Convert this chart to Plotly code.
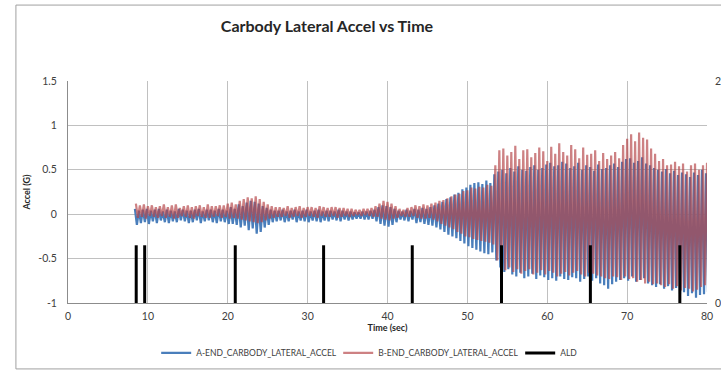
import numpy as np
import plotly.graph_objects as go

# ---------------- data ----------------
T0_A = 8.375  # first sample time of A-END series (s)
T0_B = 8.5    # first sample time of B-END series (s)
DT = 0.25     # sample step (s)

a_end_accel = [
    0.06,-0.12,0.04,-0.10, 0.05,-0.09,0.06,-0.11, 0.04,-0.08,0.05,-0.10, 0.06,-0.07,0.03,-0.09,
    0.05,-0.10,0.04,-0.08, 0.03,-0.09,0.06,-0.07, 0.05,-0.08,0.04,-0.10, 0.04,-0.09,0.05,-0.07,
    0.06,-0.10,0.03,-0.08, 0.05,-0.07,0.05,-0.09, 0.04,-0.10,0.06,-0.08, 0.05,-0.09,0.04,-0.11,
    0.08,-0.11,0.06,-0.12, 0.11,-0.15,0.09,-0.13, 0.13,-0.18,0.15,-0.16, 0.14,-0.22,0.12,-0.20,
    0.09,-0.15,0.07,-0.12, 0.05,-0.09,0.04,-0.08, 0.04,-0.07,0.05,-0.09, 0.03,-0.08,0.04,-0.06,
    0.05,-0.09,0.03,-0.07, 0.04,-0.08,0.05,-0.09, 0.03,-0.07,0.04,-0.08, 0.05,-0.09,0.03,-0.07,
    0.04,-0.08,0.04,-0.06, 0.03,-0.07,0.05,-0.08, 0.04,-0.06,0.03,-0.07, 0.03,-0.06,0.02,-0.05,
    0.02,-0.05,0.03,-0.06, 0.03,-0.06,0.04,-0.05, 0.05,-0.08,0.08,-0.11, 0.10,-0.13,0.09,-0.14,
    0.08,-0.12,0.06,-0.09, 0.04,-0.06,0.03,-0.07, 0.05,-0.08,0.04,-0.06, 0.06,-0.10,0.05,-0.09,
    0.07,-0.11,0.06,-0.12, 0.08,-0.13,0.10,-0.15, 0.12,-0.17,0.14,-0.20, 0.17,-0.23,0.19,-0.25,
    0.22,-0.27,0.24,-0.30, 0.28,-0.33,0.30,-0.36, 0.33,-0.38,0.35,-0.40, 0.36,-0.42,0.34,-0.44,
    0.38,-0.45,0.35,-0.43, 0.45,-0.52,0.48,-0.60, 0.50,-0.65,0.46,-0.62, 0.52,-0.68,0.48,-0.70,
    0.54,-0.66,0.50,-0.72, 0.49,-0.70,0.53,-0.67, 0.55,-0.73,0.50,-0.69, 0.52,-0.71,0.56,-0.74,
    0.58,-0.72,0.54,-0.75, 0.55,-0.70,0.59,-0.73, 0.57,-0.74,0.52,-0.71, 0.54,-0.72,0.58,-0.76,
    0.50,-0.73,0.55,-0.70, 0.53,-0.75,0.49,-0.72, 0.56,-0.78,0.51,-0.80, 0.52,-0.84,0.55,-0.79,
    0.57,-0.76,0.53,-0.74, 0.59,-0.72,0.62,-0.75, 0.63,-0.70,0.58,-0.76, 0.60,-0.74,0.64,-0.72,
    0.57,-0.78,0.55,-0.80, 0.52,-0.82,0.50,-0.79, 0.48,-0.84,0.51,-0.81, 0.46,-0.86,0.49,-0.83,
    0.44,-0.90,0.47,-0.88, 0.45,-0.92,0.42,-0.89, 0.47,-0.94,0.44,-0.91, 0.50,-0.90,0.46,-0.88,
]

b_end_accel = [
    0.12,-0.04,0.10,-0.03, 0.11,-0.05,0.09,-0.02, 0.10,-0.03,0.08,-0.04, 0.09,-0.02,0.11,-0.04,
    0.08,-0.03,0.10,-0.05, 0.11,-0.04,0.07,-0.02, 0.09,-0.03,0.10,-0.04, 0.08,-0.05,0.09,-0.02,
    0.10,-0.03,0.08,-0.04, 0.11,-0.04,0.09,-0.03, 0.09,-0.02,0.10,-0.04, 0.10,-0.03,0.12,-0.05,
    0.13,-0.04,0.11,-0.05, 0.15,-0.06,0.17,-0.07, 0.19,-0.08,0.18,-0.09, 0.20,-0.10,0.17,-0.09,
    0.14,-0.07,0.11,-0.05, 0.09,-0.04,0.08,-0.03, 0.08,-0.03,0.07,-0.02, 0.09,-0.04,0.07,-0.03,
    0.08,-0.02,0.09,-0.04, 0.07,-0.03,0.08,-0.02, 0.08,-0.03,0.07,-0.04, 0.09,-0.02,0.08,-0.03,
    0.07,-0.03,0.08,-0.02, 0.08,-0.04,0.07,-0.03, 0.07,-0.02,0.06,-0.03, 0.06,-0.02,0.05,-0.01,
    0.05,-0.02,0.06,-0.01, 0.06,-0.02,0.07,-0.03, 0.09,-0.03,0.12,-0.05, 0.15,-0.06,0.14,-0.07,
    0.12,-0.05,0.09,-0.04, 0.06,-0.02,0.05,-0.03, 0.07,-0.03,0.08,-0.02, 0.10,-0.04,0.09,-0.05,
    0.11,-0.05,0.10,-0.04, 0.12,-0.06,0.13,-0.08, 0.15,-0.11,0.16,-0.13, 0.18,-0.15,0.20,-0.17,
    0.22,-0.20,0.23,-0.22, 0.26,-0.25,0.27,-0.26, 0.30,-0.28,0.29,-0.29, 0.31,-0.30,0.30,-0.31,
    0.33,-0.32,0.32,-0.34, 0.55,-0.52,0.72,-0.62, 0.74,-0.63,0.66,-0.60, 0.70,-0.65,0.77,-0.62,
    0.62,-0.67,0.72,-0.64, 0.73,-0.62,0.64,-0.68, 0.69,-0.66,0.75,-0.63, 0.71,-0.68,0.60,-0.64,
    0.76,-0.66,0.68,-0.70, 0.80,-0.67,0.70,-0.65, 0.66,-0.69,0.78,-0.66, 0.73,-0.64,0.63,-0.68,
    0.75,-0.70,0.67,-0.66, 0.68,-0.67,0.72,-0.69, 0.60,-0.70,0.69,-0.72, 0.62,-0.73,0.66,-0.70,
    0.70,-0.71,0.63,-0.74, 0.78,-0.70,0.85,-0.73, 0.90,-0.72,0.82,-0.76, 0.92,-0.74,0.86,-0.78,
    0.84,-0.76,0.74,-0.79, 0.68,-0.78,0.60,-0.80, 0.62,-0.82,0.55,-0.79, 0.56,-0.84,0.59,-0.81,
    0.54,-0.86,0.57,-0.83, 0.48,-0.84,0.55,-0.87, 0.57,-0.85,0.50,-0.82, 0.55,-0.80,0.58,-0.83,
]

ald_times = [8.54, 9.6, 20.94, 32.0, 43.1, 54.27, 65.4, 76.6]
ald_level = 0.52

x_ticks = [0, 10, 20, 30, 40, 50, 60, 70, 80]
y_ticks = [-1, -0.5, 0, 0.5, 1, 1.5]
y_tick_text = ["-1", "-0.5", "0", "0.5", "1", "1.5"]

# ---------------- figure ----------------
t_a = T0_A + DT * np.arange(len(a_end_accel))
t_b = T0_B + DT * np.arange(len(b_end_accel))

ald_x, ald_y = [], []
for t in ald_times:
    ald_x += [t, t, None]
    ald_y += [0, ald_level, None]

FONT = "Lato"
TXT = "#404040"

fig = go.Figure()
fig.add_trace(go.Scatter(
    x=t_a, y=a_end_accel, mode="lines", name="A-END_CARBODY_LATERAL_ACCEL",
    line=dict(color="#4a7ebb", width=2.2)))
fig.add_trace(go.Scatter(
    x=t_b, y=b_end_accel, mode="lines", name="B-END_CARBODY_LATERAL_ACCEL",
    line=dict(color="rgba(182,70,72,0.68)", width=2.2)))
fig.add_trace(go.Scatter(
    x=ald_x, y=ald_y, mode="lines", name="ALD", yaxis="y2",
    line=dict(color="#000000", width=3)))

grid = "#c0c0c0"
fig.update_layout(
    width=721, height=371,
    margin=dict(l=68, r=14, t=81, b=68, autoexpand=False),
    paper_bgcolor="white", plot_bgcolor="white",
    font=dict(family=FONT, size=10, color=TXT),
    title=dict(text="<b>Carbody Lateral Accel vs Time</b>",
               x=0.4535, xanchor="center", y=0.945, yanchor="top",
               font=dict(family=FONT, size=16, color="#262626")),
    xaxis=dict(range=[0, 80], tickvals=x_ticks, showgrid=True, gridcolor=grid,
               gridwidth=1, showline=True, linecolor="#8c8c8c", zeroline=False,
               ticks="", ticklabelstandoff=3, automargin=False,
               tickfont=dict(size=10.5),
               title=dict(text="<b>Time (sec)</b>", standoff=3,
                          font=dict(size=9, color="#262626"))),
    yaxis=dict(range=[-1, 1.5], tickvals=y_ticks, ticktext=y_tick_text,
               showgrid=True, gridcolor=grid, gridwidth=1, showline=True,
               linecolor="#8c8c8c", zeroline=False, ticks="", ticklabelstandoff=8,
               automargin=False, tickfont=dict(size=10.5),
               title=dict(text="<b>Accel (G)</b>", standoff=6,
                          font=dict(size=9, color="#262626"))),
    yaxis2=dict(range=[0, 2], tickvals=[0, 2], overlaying="y", side="right",
                showgrid=False, zeroline=False, showline=False, ticks="",
                ticklabelstandoff=7, automargin=False, tickfont=dict(size=10.5)),
    legend=dict(orientation="h", x=0.138, xanchor="left", y=-0.225,
                yanchor="middle", font=dict(size=8.5, color=TXT),
                itemwidth=30, entrywidth=137, entrywidthmode="pixels",
                bgcolor="rgba(0,0,0,0)"),
    showlegend=True,
    shapes=[dict(type="rect", xref="paper", yref="paper",
                 x0=-0.0815, x1=1.05, y0=-0.297, y1=1.342,
                 line=dict(color="#a0a0a0", width=1), layer="below")],
)

fig.write_html("out.html", config={"displayModeBar": False})

# remove the browser's default page margin so the figure sits at (0, 0)
with open("out.html", "r", encoding="utf-8") as f:
    html = f.read()
html = html.replace("<head>", "<head><style>html,body{margin:0;padding:0;}</style>", 1)
with open("out.html", "w", encoding="utf-8") as f:
    f.write(html)
